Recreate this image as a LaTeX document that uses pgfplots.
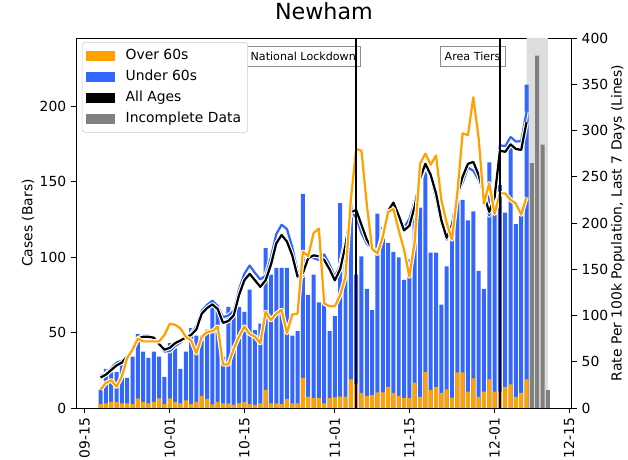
\documentclass[border=0pt]{standalone}
\usepackage{pgfplots}
\pgfplotsset{compat=1.18}
\usepackage{pgfplotstable}
\usepackage{fontspec}
\setmainfont{DejaVu Sans}
\definecolor{uorange}{HTML}{FFA200}
\definecolor{ublue}{HTML}{3366FF}
\definecolor{igray}{HTML}{808080}
\definecolor{shade}{HTML}{DDDDDD}

\pgfplotstableread{
day total over
3 12 2.6
4 26 3
5 23.6 4
6 24 4
7 30.7 3
8 20 3
9 34 2.6
10 49 6.4
11 37.3 4
12 33.3 3
13 37.3 4
14 34 6.4
15 20.7 2.6
16 43 6.4
17 39.5 4
18 26 3
19 37.3 5
20 53 2.6
21 48 4
22 44.8 8
23 52 6
24 71 2.4
25 68.7 4
26 34 3
27 67 3
28 63.8 2
29 67 3
30 63.8 4
31 78.6 2.5
32 51.7 2
33 56 3
34 106 12
35 88.5 3
36 93 3
37 93 2.5
38 93 6
39 48 3
40 51 3
41 142 19.9
42 75 7.6
43 88.5 6.6
44 70 6.6
45 76 3
46 51 6.6
47 61 7
48 136 7.6
49 111 7.6
50 140 19
51 88.5 16
52 100.6 10
53 79 8
54 65 8.6
55 129 10.3
56 120 10.3
57 109.5 14
58 103.5 10
59 100 8
60 85 6.6
61 98.6 6.6
62 137.7 16.8
63 133 7.3
64 163 24
65 103 12
66 103 14
67 68.6 10
68 94 12.4
69 118 6.8
70 137.7 23.6
71 138 23.6
72 124.5 10.8
73 130.5 19.6
74 91 7.3
75 79 10.8
76 163 19
77 128 10.8
78 148 10.8
79 129.6 14
80 175 15.7
81 122 7.3
82 129 10
83 214.5 19
}\bars

\pgfplotstableread{
day total
84 162.5
85 233.8
86 174.8
87 11.9
}\incomplete

\pgfplotstableread{
day all under over
3 33 35 20
4 36 37 27
5 41 43 30
6 46 49 23
7 49 51 34
8 56 56 54
9 63 63 63
10 75 75 75
11 77 78 72
12 77 78 72
13 76 76.5 72
14 69 69 72
15 63 61 79
16 65 61.5 91
17 70 67 90
18 73 71 86
19 76 76 77
20 79 80 73
21 85 88.5 59
22 102 105 77
23 108 111.5 82
24 112 116 83
25 107 110 88
26 92 98 47
27 94 100 47
28 100 105 64
29 122 128 77
30 138 145 88
31 145 154 80
32 138 146 77
33 131 139 70
34 138 143 104
35 155 163 95
36 178 188 102
37 187 198 106
38 180 193.5 81
39 165 174 101
40 142 147 102
41 146 143 169
42 162 162 164
43 165 162 189
44 164 160 194
45 160 166 113
46 150 155 110
47 138 142 110
48 150 154 122
49 176 181 142
50 212 212 225
51 214 206 280
52 198 189 278
53 182 177.5 220
54 172 172 172
55 167 167 167
56 188 188 185
57 213 213 212
58 222 223 215
59 208 210 192
60 192 195 171
61 197 204.5 142
62 218 223 180
63 248 246 264
64 264 262.5 275
65 252 250.5 263
66 232 226 273
67 203 200 225
68 184 182 200
69 198 200 182
70 230 230 232
71 250 243.6 297
72 264 260 295
73 266 256.5 336
74 252 246.6 292
75 230 231 221
76 212 208 243
77 228 230 210
78 278 284 232
79 277 283 232
80 285 293 225
81 280 288 221
82 279 288.5 209
83 309 320 228
}\rates

\begin{document}
\begin{tikzpicture}
\pgfplotsset{
  common/.style={
    at={(0,0)}, anchor=south west,
    scale only axis, width=357.1pt, height=266.4pt,
    xmin=-1.62, xmax=91.52,
    tick align=outside, major tick length=3.5pt,
    tick style={black, line width=0.6pt},
    axis line style={line width=0.6pt},
    /pgf/number format/assume math mode=true,
    ticklabel style={font=\fontsize{10}{12}\selectfont},
    label style={font=\fontsize{10}{12}\selectfont},
  }
}
\begin{axis}[common,
  ymin=0, ymax=245.5,
  xtick={0,16,30,47,61,77,91},
  xticklabels={09-15,10-01,10-15,11-01,11-15,12-01,12-15},
  xticklabel style={rotate=90, anchor=east},
  ytick={0,50,100,150,200},
  xtick pos=bottom, ytick pos=left,
  ylabel={Cases (Bars)},
  ylabel style={at={(axis description cs:-0.0969,0.5)}, anchor=center},
  title={Newham},
  title style={at={(axis description cs:0.5,1)}, anchor=base, yshift=7pt, font=\fontsize{16}{19}\selectfont},
]
\addplot[fill=shade, draw=none, forget plot] coordinates {(83,0) (83,245.5) (87,245.5) (87,0)} \closedcycle;
\addplot[ybar, bar width=0.75, bar shift=0pt, fill=ublue, draw=none] table[x=day, y=total] {\bars};
\addplot[ybar, bar width=0.75, bar shift=0pt, fill=uorange, draw=none] table[x=day, y=over] {\bars};
\addplot[ybar, bar width=0.75, bar shift=0pt, fill=igray, draw=none] table[x=day, y=total] {\incomplete};
\end{axis}

\begin{axis}[common,
  ymin=0, ymax=400,
  axis y line*=right, axis x line=none,
  ytick={0,50,100,150,200,250,300,350,400},
  ylabel={Rate Per 100k Population, Last 7 Days (Lines)},
  ylabel style={at={(axis description cs:1.0927,0.5)}, anchor=center},
  legend style={at={(axis description cs:0,1)}, anchor=north west, xshift=4.3pt, yshift=-2.9pt,
    font=\fontsize{10}{12}\selectfont, draw=black!20, rounded corners=2pt,
    fill=white, inner xsep=3pt, inner ysep=3.5pt,
    row sep=2.4pt, nodes={inner sep=1.8pt},
    /tikz/every odd column/.append style={column sep=6pt}},
  legend cell align=left,
  legend image code/.code={\fill[#1, draw=none, rounded corners=0pt] (0pt,-3.6pt) rectangle (20.5pt,3.6pt);},
]
\addlegendimage{fill=uorange}
\addlegendentry{Over 60s}
\addlegendimage{fill=ublue}
\addlegendentry{Under 60s}
\addlegendimage{fill=black}
\addlegendentry{All Ages}
\addlegendimage{fill=igray}
\addlegendentry{Incomplete Data}

\addplot[white, line width=3.2pt, line join=round, forget plot] table[x=day, y=under] {\rates};
\addplot[ublue, line width=1.6pt, line join=round, forget plot] table[x=day, y=under] {\rates};
\addplot[white, line width=3.2pt, line join=round, forget plot] table[x=day, y=all] {\rates};
\addplot[black, line width=1.6pt, line join=round, forget plot] table[x=day, y=all] {\rates};
\addplot[white, line width=3.2pt, line join=round, forget plot] table[x=day, y=over] {\rates};
\addplot[uorange, line width=1.6pt, line join=round, forget plot] table[x=day, y=over] {\rates};

\node[draw=black!45, fill=white, fill opacity=0.8, text opacity=1, anchor=east,
  font=\fontsize{8}{9.6}\selectfont, inner xsep=3.5pt, inner ysep=4pt] at (axis cs:51.9,380.5) {National Lockdown};
\node[draw=black!45, fill=white, fill opacity=0.8, text opacity=1, anchor=east,
  font=\fontsize{8}{9.6}\selectfont, inner xsep=3.5pt, inner ysep=4pt] at (axis cs:79.08,380.5) {Area Tiers};
\addplot[black, line width=1.4pt, forget plot] coordinates {(51,0) (51,400)};
\addplot[black, line width=1.4pt, forget plot] coordinates {(78,0) (78,400)};
\end{axis}
\pgfresetboundingbox
\path (-54.7pt,-37.44pt) rectangle (397.5pt,293.76pt);
\end{tikzpicture}
\end{document}
